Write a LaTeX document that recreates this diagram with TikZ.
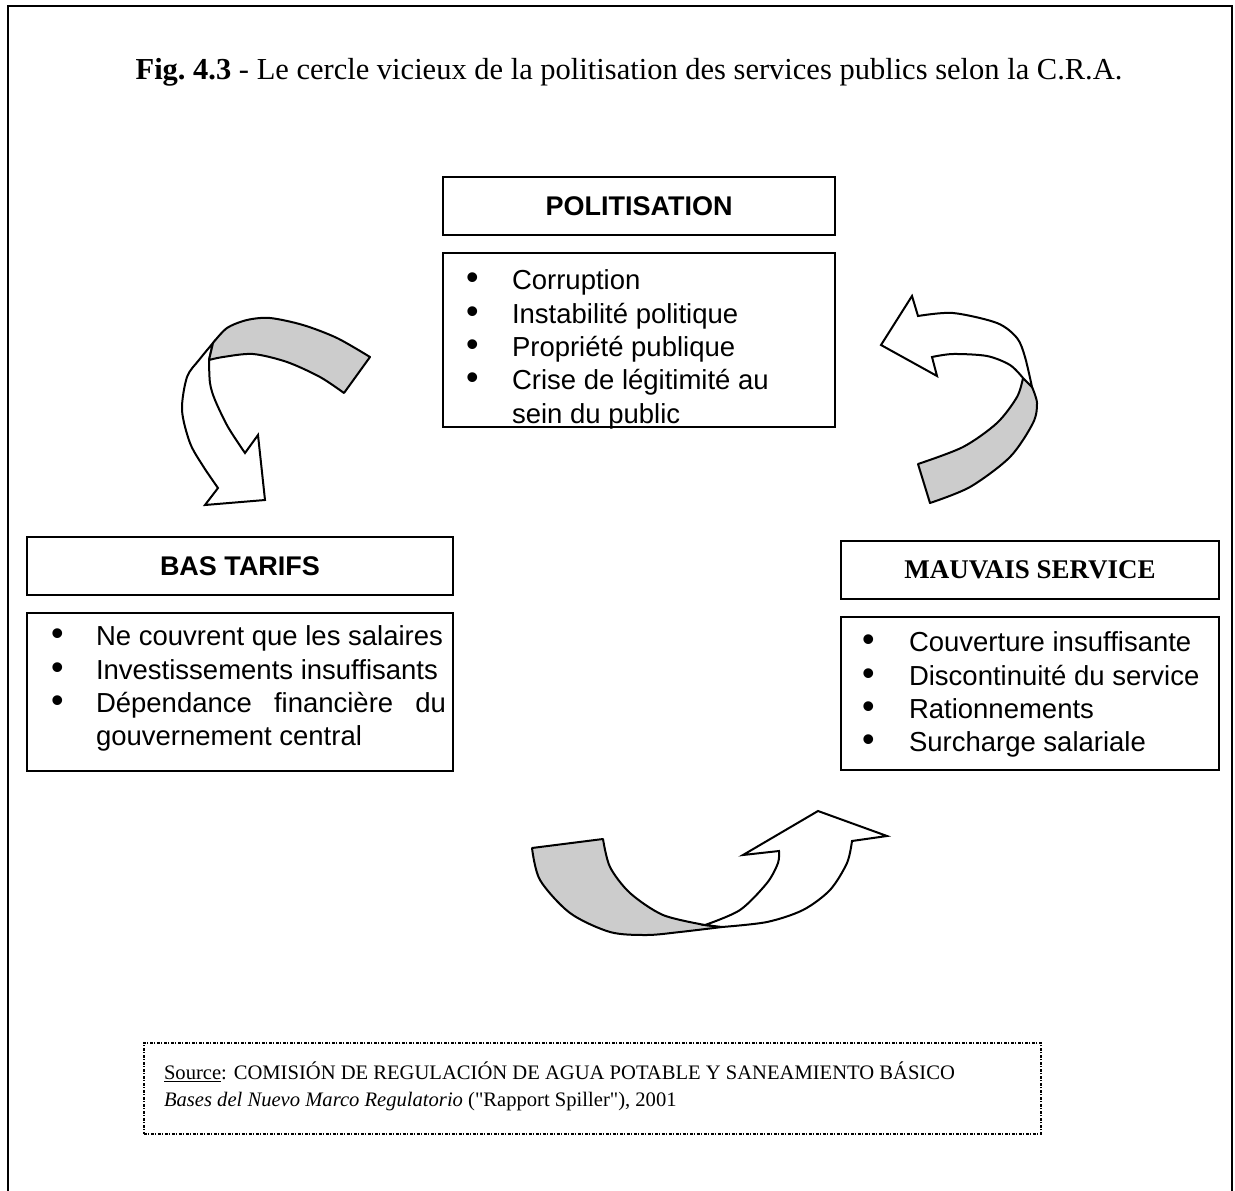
\documentclass[tikz,border=0pt]{standalone}
\usepackage{fontspec}
\setmainfont{Liberation Serif}[Ligatures=TeXOff]
\newfontfamily\arialfont{Liberation Sans}
\usetikzlibrary{positioning,calc}

\newcommand{\puce}[1]{\makebox[#1][l]{\scalebox{1.3}{\textbullet}}}

\begin{document}
\begin{tikzpicture}[x=1pt,y=-1pt,line width=2pt,
    headbox/.style={draw,anchor=north west,inner sep=0pt,minimum height=58pt,font=\arialfont\bfseries\fontsize{27}{32}\selectfont},
    listbox/.style={draw,anchor=north west,inner sep=0pt},
    listtext/.style={anchor=north west,align=left,inner sep=0pt,font=\arialfont\fontsize{27.5}{33.3}\selectfont},
    back/.style={draw,fill=black!20,line join=round},
    front/.style={draw,fill=white,line join=miter}]

    \useasboundingbox (0,0) rectangle (1235,1191);
    \draw (8,1195) -- (8,6) -- (1232,6) -- (1232,1195);

    \node[font=\fontsize{30.5}{34}\selectfont] (title) at (629,72) {\textbf{Fig.\ 4.3} - Le cercle vicieux de la politisation des services publics selon la C.R.A.};

    % politisation
    \node[headbox,minimum width=392pt] (polHead) at (442,176) {POLITISATION};
    \node[listbox,minimum width=392pt,minimum height=174pt] (polList) at (442,252) {};
    \begin{scope}
        \clip (polList.south west) rectangle (polList.north east);
        \node[listtext] (polItems) at ($(polList.north west)+(23,17)$) {%
            \puce{46pt}Corruption\\
            \puce{46pt}Instabilité politique\\
            \puce{46pt}Propriété publique\\
            \puce{46pt}Crise de légitimité au\\
            \hspace*{46pt}sein du public};
    \end{scope}

    % bas tarifs
    \node[headbox,minimum width=426pt] (basHead) at (26,536) {BAS TARIFS};
    \node[listbox,minimum width=426pt,minimum height=158pt] (basList) at (26,612) {};
    \node[listtext] (basItems) at ($(basList.north west)+(24,13)$) {%
        \puce{45pt}Ne couvrent que les salaires\\
        \puce{45pt}Investissements insuffisants\\
        \puce{45pt}\makebox[350pt][s]{Dépendance financière du}\\
        \hspace*{45pt}gouvernement central};

    % mauvais service
    \node[headbox,minimum width=378pt,font=\bfseries\fontsize{27}{32}\selectfont] (mauHead) at (840,540) {MAUVAIS SERVICE};
    \node[listbox,minimum width=378pt,minimum height=153pt] (mauList) at (840,616) {};
    \node[listtext] (mauItems) at ($(mauList.north west)+(21,15)$) {%
        \puce{47pt}Couverture insuffisante\\
        \puce{47pt}Discontinuité du service\\
        \puce{47pt}Rationnements\\
        \puce{47pt}Surcharge salariale};

    % fleche politisation -> bas tarifs
    \filldraw[front] plot[smooth] coordinates {(213,343) (199,360) (187,377) (182,410) (190,443) (203,466) (218,488)}
        -- (205,505) -- (265,500) -- (258,435)
        -- plot[smooth] coordinates {(245,453) (228,427) (215,400) (210,383) (209,360)} -- cycle;
    \filldraw[back] plot[smooth] coordinates {(213,343) (227,328) (247,320) (270,318) (303,325) (337,338) (370,357)}
        -- plot[smooth] coordinates {(344,393) (320,377) (287,362) (253,354) (223,357) (209,360)} -- cycle;

    % fleche mauvais service -> politisation
    \filldraw[back] plot[smooth] coordinates {(918,464) (963,447) (997,423) (1017,397) (1023,378)}
        -- plot[smooth] coordinates {(1032,387) (1037,403) (1033,423) (1010,457) (970,487) (930,503)} -- cycle;
    \filldraw[front] plot[smooth] coordinates {(1032,387) (1025,357) (1017,338) (997,323) (953,313) (918,316)}
        -- (912,296) -- (881,345) -- (937,376)
        -- plot[smooth] coordinates {(932,357) (953,354) (987,356) (1010,365) (1023,378)} -- cycle;

    % fleche bas tarifs -> mauvais service
    \filldraw[back] (532,848)
        -- plot[smooth] coordinates {(603,839) (610,867) (630,893) (663,915) (705,925)}
        -- plot[smooth] coordinates {(722,927) (680,932) (647,935) (610,932) (570,913) (540,880) (532,848)} -- cycle;
    \filldraw[front] plot[smooth] coordinates {(705,925) (740,910) (767,883) (778,863) (779,851)}
        -- (743,855) -- (818,811) -- (887,836)
        -- plot[smooth] coordinates {(852,841) (847,863) (830,890) (803,910) (767,922) (722,927)} -- cycle;

    % source
    \node[draw,line width=1.5pt,dash pattern=on 3pt off 1.5pt on 1pt off 1.5pt,anchor=north west,
        minimum width=897pt,minimum height=91pt,inner sep=0pt] (srcBox) at (143,1042) {};
    \node[anchor=west,align=left,inner sep=0pt,font=\fontsize{20.6}{27}\selectfont] (srcText) at ($(srcBox.west)+(20,-2)$) {%
        \underline{Source}: COMISIÓN DE REGULACIÓN DE AGUA POTABLE Y SANEAMIENTO BÁSICO\\
        \textit{Bases del Nuevo Marco Regulatorio} ("Rapport Spiller"), 2001};
\end{tikzpicture}
\end{document}
